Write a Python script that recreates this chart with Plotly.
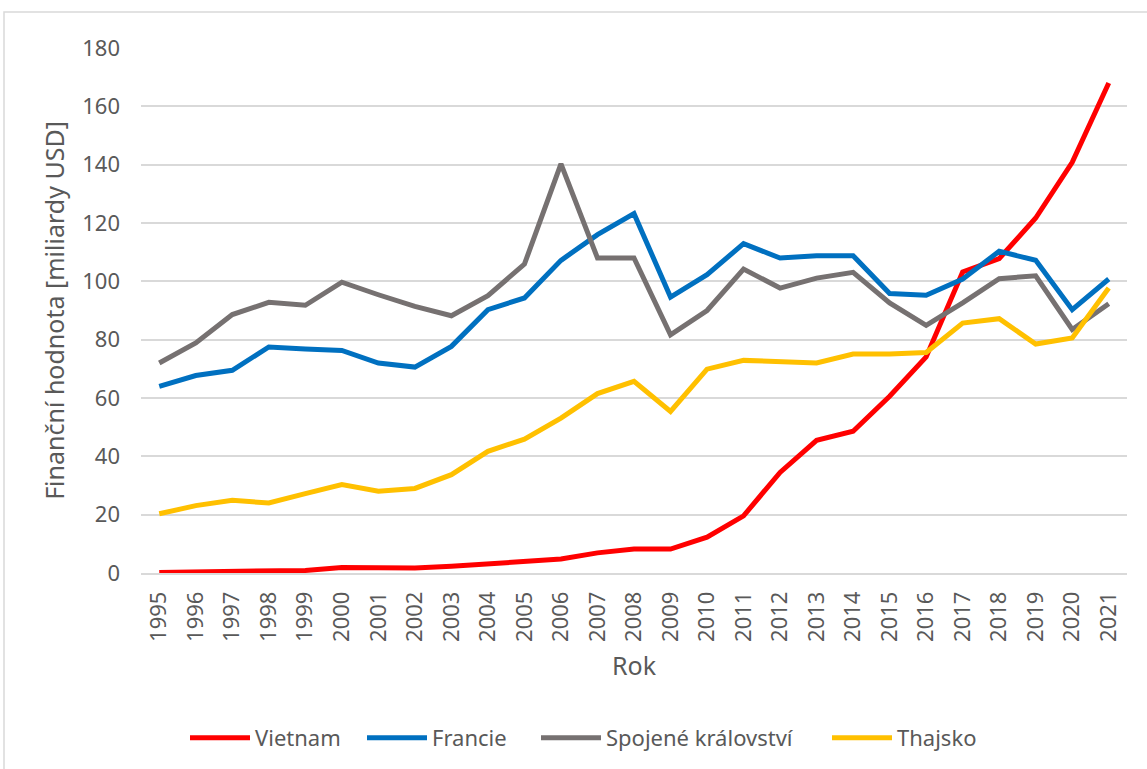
import plotly.graph_objects as go

years = [str(y) for y in range(1995, 2022)]
vietnam = [0.2, 0.3, 0.8, 0.9, 0.9, 1.9, 1.7, 1.7, 2.3, 3.2, 3.9, 4.8, 6.9, 8.2, 8.2,
           12.3, 19.6, 34.5, 45.5, 48.6, 60.6, 74.1, 103.2, 107.8, 121.7, 140.8, 168.0]
francie = [64.0, 67.7, 69.5, 77.5, 76.8, 76.3, 72.0, 70.6, 77.7, 90.3, 94.3, 107.2, 116.0,
           123.2, 94.6, 102.3, 112.9, 108.0, 108.8, 108.8, 95.8, 95.2, 100.8, 110.3, 107.2,
           90.3, 100.8]
uk = [72.0, 78.9, 88.6, 92.8, 91.8, 99.7, 95.4, 91.4, 88.2, 95.1, 105.9, 140.3, 108.0,
      108.0, 81.7, 90.0, 104.2, 97.7, 101.1, 103.1, 92.6, 84.9, 92.6, 100.9, 101.9, 83.5,
      92.3]
thajsko = [20.3, 23.1, 24.9, 24.0, 27.2, 30.3, 28.0, 29.0, 33.7, 41.7, 45.9, 53.1, 61.5,
           65.7, 55.4, 69.9, 72.9, 72.3, 72.0, 75.1, 75.1, 75.6, 85.7, 87.2, 78.5, 80.6, 97.7]

series = [
    ("Vietnam", vietnam, "#FF0000"),
    ("Francie", francie, "#0070C0"),
    ("Spojené království", uk, "#767171"),
    ("Thajsko", thajsko, "#FFC000"),
]

FONT = "Noto Sans"
TXT = "#595959"

# plot area in page pixels
L, R, T, B = 141, 1127, 48, 573
PW, PH = R - L, B - T

legend_ids = ["legend", "legend2", "legend3", "legend4"]
legend_px = [185, 362, 536, 827]

fig = go.Figure()
for (name, vals, col), lid in zip(series, legend_ids):
    fig.add_trace(go.Scatter(x=years, y=vals, name=name, mode="lines", legend=lid,
                             line=dict(color=col, width=5, shape="linear")))

legend_common = dict(orientation="h", xanchor="left", y=(B - 738) / PH, yanchor="middle",
                     font=dict(size=22, color=TXT, family=FONT), itemwidth=60,
                     bgcolor="rgba(0,0,0,0)")
legends = {}
for lid, px in zip(legend_ids, legend_px):
    legends[lid] = dict(legend_common, x=(px - L) / PW)

fig.update_layout(
    width=1147, height=769,
    margin=dict(l=L, r=1147 - R, t=T, b=769 - B, autoexpand=False),
    paper_bgcolor="white", plot_bgcolor="white",
    font=dict(family=FONT, color=TXT, size=22),
    showlegend=True,
    xaxis=dict(type="category", range=[-0.5, 26.5], tickangle=-90, showgrid=False,
               showline=True, linecolor="#D9D9D9", linewidth=1.5, ticks="",
               ticklabelstandoff=8,
               tickfont=dict(size=22, color=TXT),
               title=dict(text="Rok", font=dict(size=25, color=TXT), standoff=17)),
    yaxis=dict(range=[0, 180], dtick=20, showgrid=True, gridcolor="#D9D9D9", gridwidth=1.5,
               zeroline=False, showline=False, ticks="", tickfont=dict(size=22, color=TXT),
               ticklabelstandoff=20,
               title=dict(text="Finanční hodnota [miliardy USD]", font=dict(size=25, color=TXT),
                          standoff=10)),
    shapes=[dict(type="rect", xref="paper", yref="paper",
                 x0=(4 - L) / PW, x1=(1160 - L) / PW,
                 y0=(B - 790) / PH, y1=1 + (T - 12) / PH,
                 line=dict(color="#D9D9D9", width=1.5), fillcolor="rgba(0,0,0,0)", layer="below")],
    **legends,
)

fig.write_html("out.html", config={"displayModeBar": False},
               post_script="document.body.style.margin='0';document.body.style.overflow='hidden';")
